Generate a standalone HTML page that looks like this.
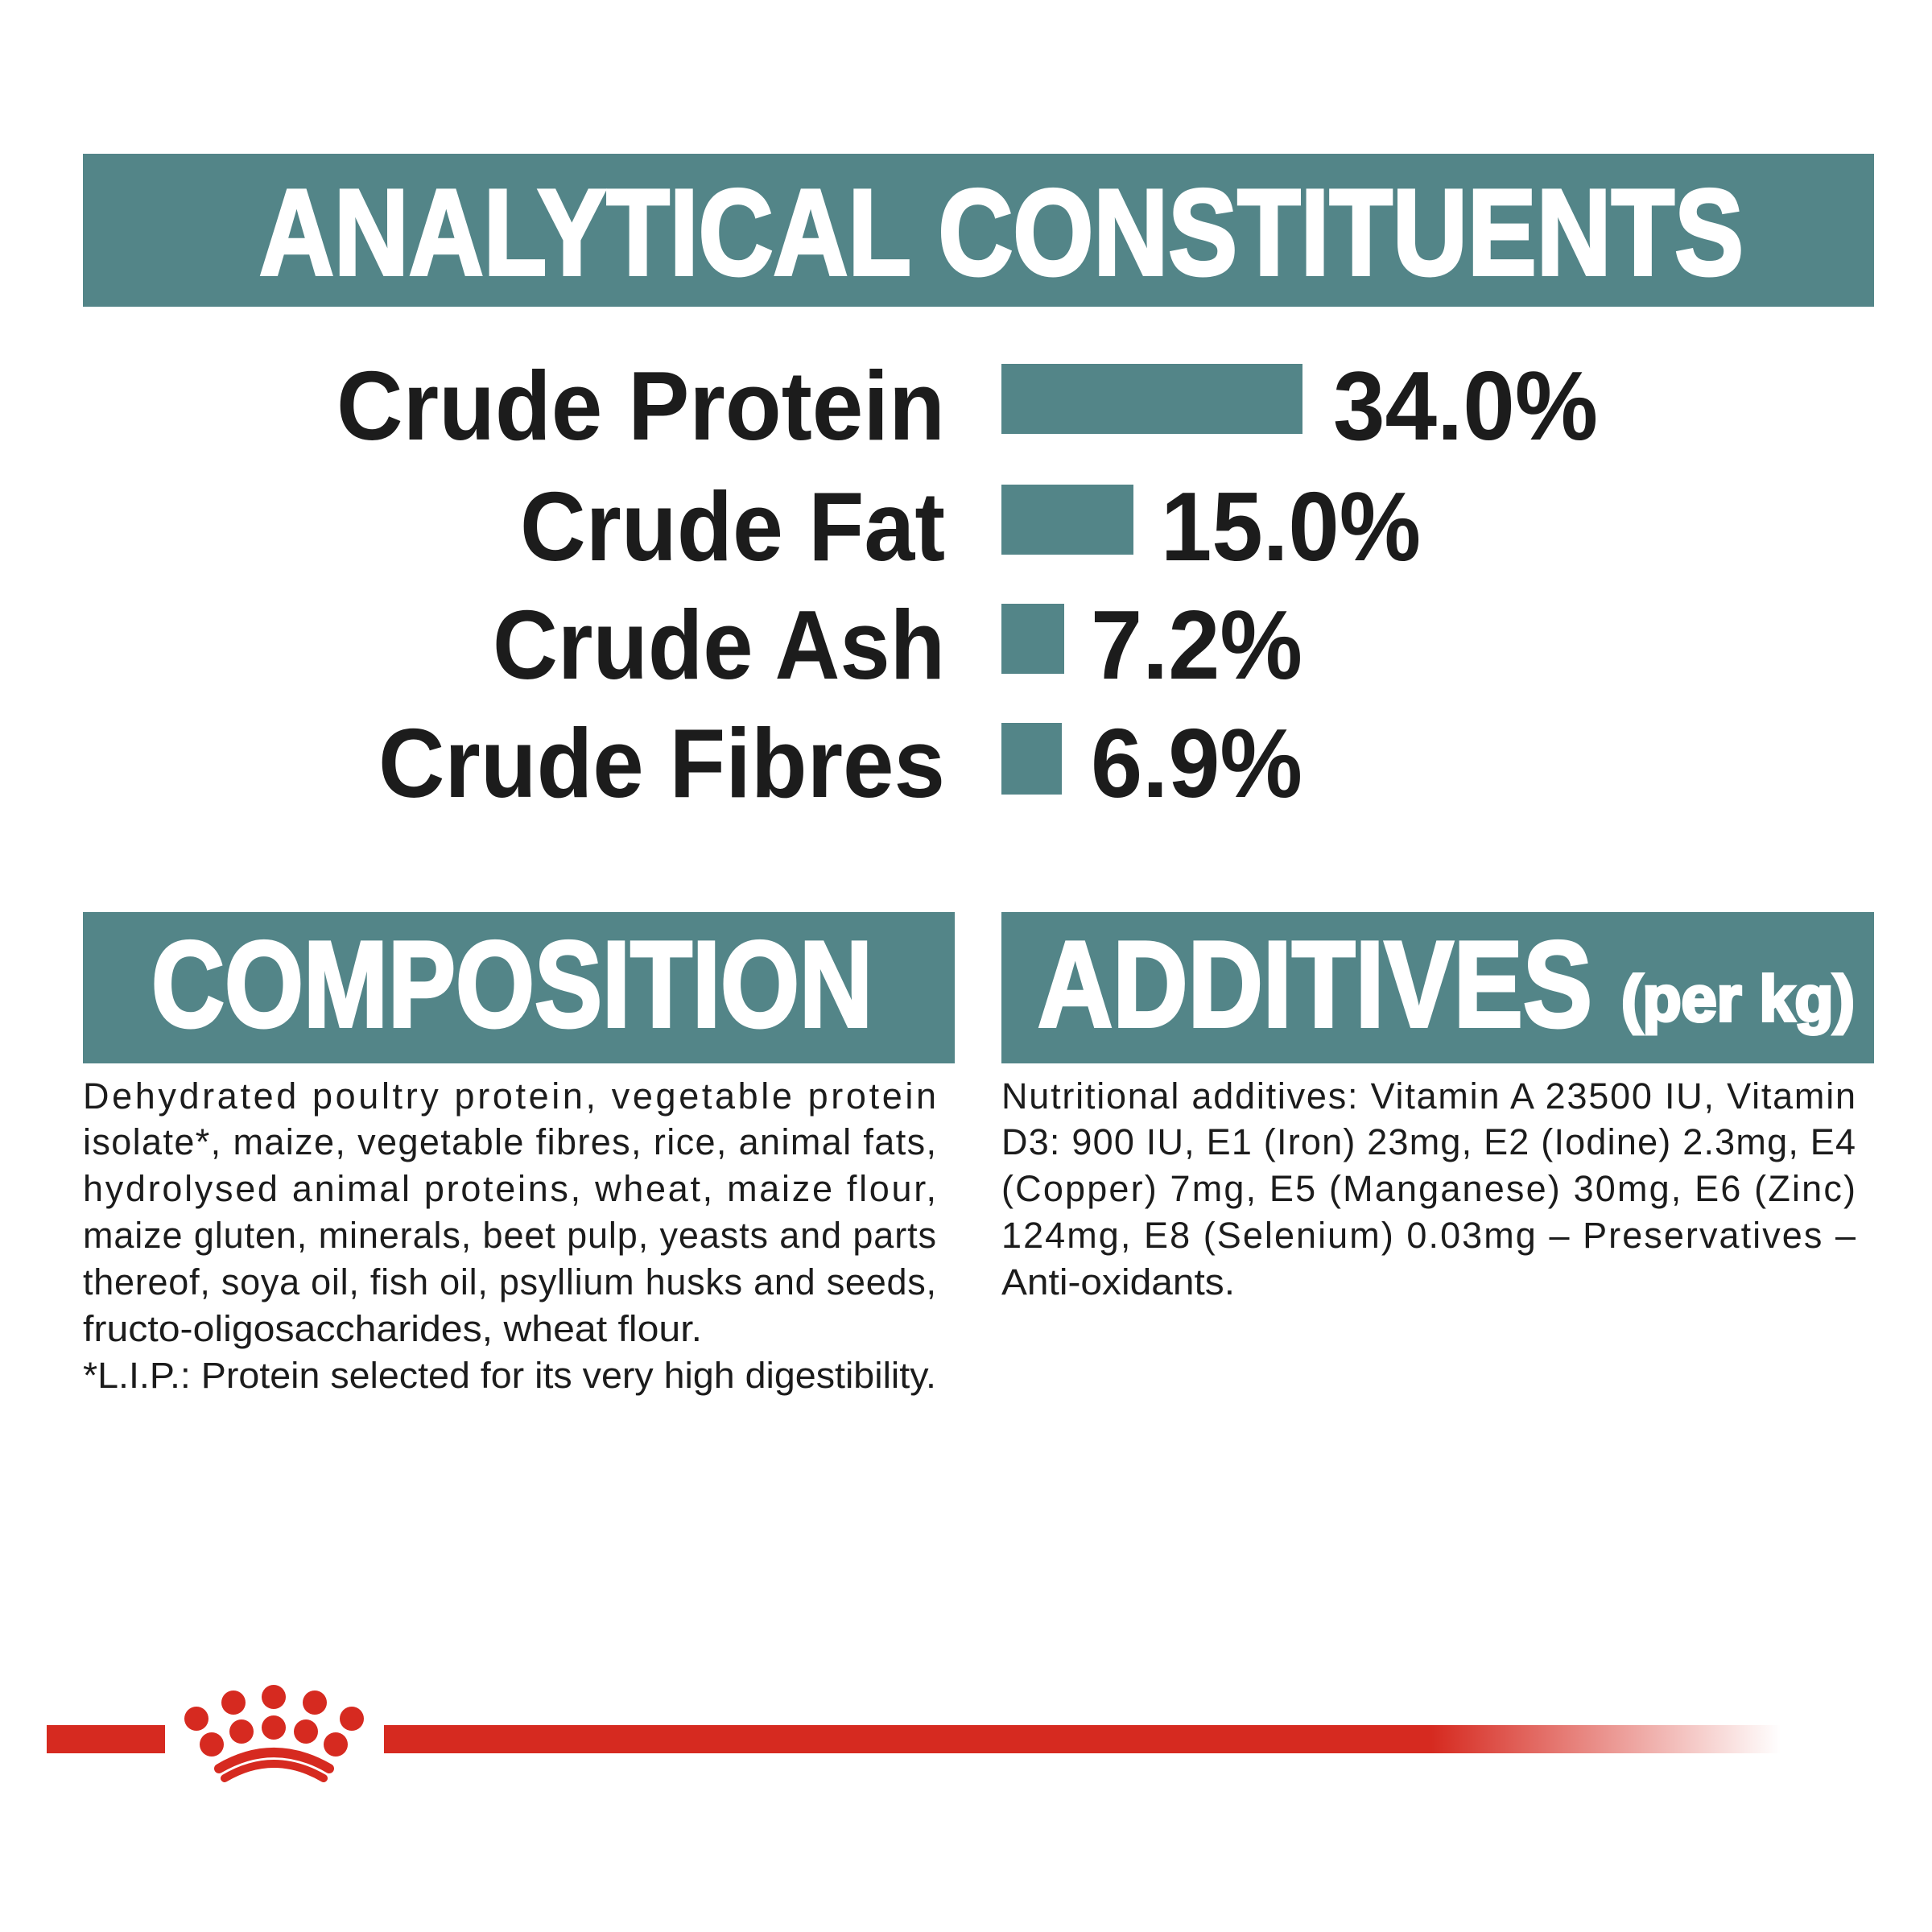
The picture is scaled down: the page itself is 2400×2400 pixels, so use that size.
<!DOCTYPE html>
<html><head><meta charset="utf-8"><style>
html,body{margin:0;padding:0;background:#fff}
svg{display:block}
.h{font-family:"Liberation Sans",sans-serif;font-weight:bold;fill:#fff;stroke:#fff;stroke-width:4}
.l{font-family:"Liberation Sans",sans-serif;font-weight:bold;fill:#1c1c1c}
.t{font-family:"Liberation Sans Narrow","Liberation Sans",sans-serif;font-size:45px;fill:#1c1c1c}
</style></head><body>
<svg width="2400" height="2400" viewBox="0 0 2400 2400" xmlns="http://www.w3.org/2000/svg">
<defs><linearGradient id="g" x1="0" x2="1"><stop offset="0" stop-color="#d62a20"/><stop offset="0.75" stop-color="#d62a20"/><stop offset="1" stop-color="#d62a20" stop-opacity="0"/></linearGradient></defs>
<rect x="103" y="191" width="2225" height="190" fill="#538588"/>
<text class="h" x="322" y="341" font-size="152" textLength="1844" lengthAdjust="spacingAndGlyphs">ANALYTICAL CONSTITUENTS</text>

<text class="l" x="1174" y="546" font-size="122" text-anchor="end" textLength="756" lengthAdjust="spacingAndGlyphs">Crude Protein</text>
<text class="l" x="1174" y="696" font-size="122" text-anchor="end" textLength="528" lengthAdjust="spacingAndGlyphs">Crude Fat</text>
<text class="l" x="1174" y="843" font-size="122" text-anchor="end" textLength="562" lengthAdjust="spacingAndGlyphs">Crude Ash</text>
<text class="l" x="1174" y="990" font-size="122" text-anchor="end" textLength="704" lengthAdjust="spacingAndGlyphs">Crude Fibres</text>
<rect x="1244" y="452" width="374" height="87" fill="#538588"/>
<rect x="1244" y="602" width="164" height="87" fill="#538588"/>
<rect x="1244" y="750" width="78" height="87" fill="#538588"/>
<rect x="1244" y="898" width="75" height="89" fill="#538588"/>
<text class="l" x="1656" y="546" font-size="122" textLength="329" lengthAdjust="spacingAndGlyphs">34.0%</text>
<text class="l" x="1442" y="696" font-size="122" textLength="323" lengthAdjust="spacingAndGlyphs">15.0%</text>
<text class="l" x="1355" y="843" font-size="122" textLength="263" lengthAdjust="spacingAndGlyphs">7.2%</text>
<text class="l" x="1355" y="990" font-size="122" textLength="263" lengthAdjust="spacingAndGlyphs">6.9%</text>

<rect x="103" y="1133" width="1083" height="188" fill="#538588"/>
<text class="h" x="188" y="1275" font-size="152" textLength="896" lengthAdjust="spacingAndGlyphs">COMPOSITION</text>
<rect x="1244" y="1133" width="1084" height="188" fill="#538588"/>
<text class="h" x="1289" y="1275" font-size="152" textLength="689" lengthAdjust="spacingAndGlyphs">ADDITIVES</text>
<text class="h" x="2014" y="1268" font-size="80" textLength="290" lengthAdjust="spacingAndGlyphs" stroke-width="2">(per kg)</text>

<g class="t">
<text x="103" y="1377" textLength="1060" lengthAdjust="spacing">Dehydrated poultry protein, vegetable protein</text>
<text x="103" y="1434" textLength="1060" lengthAdjust="spacing">isolate*, maize, vegetable fibres, rice, animal fats,</text>
<text x="103" y="1492" textLength="1060" lengthAdjust="spacing">hydrolysed animal proteins, wheat, maize flour,</text>
<text x="103" y="1550" textLength="1060" lengthAdjust="spacing">maize gluten, minerals, beet pulp, yeasts and parts</text>
<text x="103" y="1608" textLength="1060" lengthAdjust="spacing">thereof, soya oil, fish oil, psyllium husks and seeds,</text>
<text x="103" y="1666" textLength="769" lengthAdjust="spacingAndGlyphs">fructo-oligosaccharides, wheat flour.</text>
<text x="103" y="1724" textLength="1060" lengthAdjust="spacingAndGlyphs">*L.I.P.: Protein selected for its very high digestibility.</text>

<text x="1244" y="1377" textLength="1061" lengthAdjust="spacing">Nutritional additives: Vitamin A 23500 IU, Vitamin</text>
<text x="1244" y="1434" textLength="1061" lengthAdjust="spacing">D3: 900 IU, E1 (Iron) 23mg, E2 (Iodine) 2.3mg, E4</text>
<text x="1244" y="1492" textLength="1061" lengthAdjust="spacing">(Copper) 7mg, E5 (Manganese) 30mg, E6 (Zinc)</text>
<text x="1244" y="1550" textLength="1061" lengthAdjust="spacing">124mg, E8 (Selenium) 0.03mg – Preservatives –</text>
<text x="1244" y="1608" textLength="290" lengthAdjust="spacingAndGlyphs">Anti-oxidants.</text>
</g>

<rect x="58" y="2143" width="147" height="35" fill="#d62a20"/>
<rect x="477" y="2143" width="1735" height="35" fill="url(#g)"/>
<g fill="#d62a20">
<circle cx="290" cy="2115" r="15"/><circle cx="340" cy="2108" r="15"/><circle cx="391" cy="2115" r="15"/>
<circle cx="244" cy="2135" r="15"/><circle cx="437" cy="2135" r="15"/>
<circle cx="300" cy="2151" r="15"/><circle cx="340" cy="2146" r="15"/><circle cx="380" cy="2151" r="15"/>
<circle cx="263" cy="2167" r="15"/><circle cx="417" cy="2167" r="15"/>
</g>
<path d="M272 2197 Q340 2157 409 2197" stroke="#d62a20" stroke-width="12" fill="none" stroke-linecap="round"/>
<path d="M279 2209 Q340 2173 402 2209" stroke="#d62a20" stroke-width="10" fill="none" stroke-linecap="round"/>
</svg>
</body></html>
